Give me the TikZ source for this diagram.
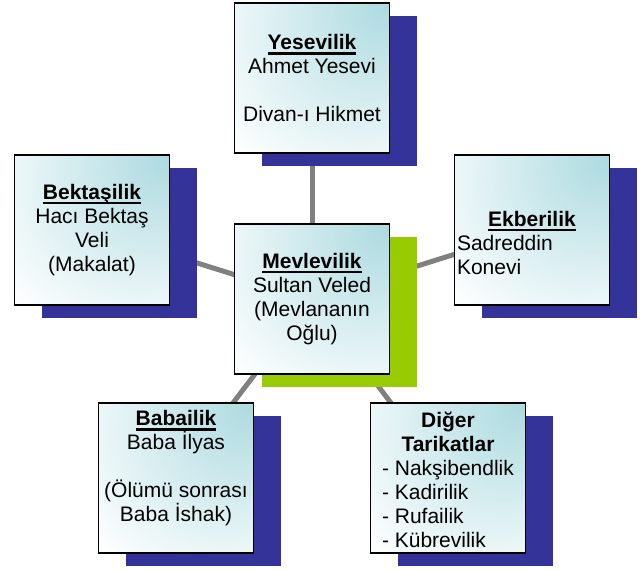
\documentclass[tikz,border=0pt]{standalone}
\usepackage{fontspec}
\setmainfont{Liberation Sans}
\usetikzlibrary{shadows,backgrounds}

\definecolor{boxteal}{RGB}{172,218,224}
\definecolor{shadowblue}{RGB}{51,51,153}
\definecolor{shadowgreen}{RGB}{153,204,0}
\definecolor{linkgray}{RGB}{128,128,128}
\pgfdeclareradialshading{boxshade}{\pgfpoint{25bp}{25bp}}{color(0bp)=(boxteal); color(52bp)=(white); color(100bp)=(white)}
\newcommand\ttl[1]{\setbox0=\hbox{\bfseries #1}\rlap{\rule[-5pt]{\wd0}{2.5pt}}\box0}

\begin{document}
\begin{tikzpicture}[x=1pt, y=-1pt,
    tarikat/.style={draw=black, line width=1.5pt, shading=boxshade, minimum width=155pt, minimum height=150pt, inner sep=2pt, align=center, font=\fontsize{21}{24}\selectfont},
    blueshadow/.style={drop shadow={shadow xshift=27pt, shadow yshift=-13pt, fill=shadowblue, opacity=1}},
    greenshadow/.style={drop shadow={shadow xshift=27pt, shadow yshift=-13pt, fill=shadowgreen, opacity=1}},
    link/.style={draw=linkgray, line width=5pt}]
    \useasboundingbox (0, 0) rectangle (640, 570);
    % center
    \node[tarikat, greenshadow] (mevlevi) at (312, 299) {\ttl{Mevlevilik}\\Sultan Veled\\(Mevlananın\\Oğlu)};
    % around
    \node[tarikat, blueshadow] (yesevi) at (312, 78) {\ttl{Yesevilik}\\Ahmet Yesevi\\\strut\\Divan-ı Hikmet};
    \node[tarikat, blueshadow] (bektasi) at (92, 230) {\ttl{Bektaşilik}\\Hacı Bektaş\\Veli\\(Makalat)};
    \node[tarikat, blueshadow] (ekberi) at (532, 230) {\strut\\\ttl{Ekberilik}\\\makebox[150pt][l]{Sadreddin}\\\makebox[150pt][l]{Konevi}};
    \node[tarikat, blueshadow] (babai) at (176, 478) {\ttl{Babailik}\\Baba İlyas\\\mbox{}\\(Ölümü sonrası\\Baba İshak)\\\mbox{}};
    \node[tarikat, blueshadow] (diger) at (448, 478) {\textbf{Diğer}\\\textbf{Tarikatlar}\\\raisebox{0pt}[\height][\dimexpr\depth-10pt]{\begin{tabular}[t]{@{}l@{}}- Nakşibendlik\\- Kadirilik\\- Rufailik\\- Kübrevilik\end{tabular}}};
    \begin{pgfonlayer}{background}
      \draw[link] (mevlevi.center) -- (yesevi.center);
      \draw[link] (mevlevi.center) -- (bektasi.center);
      \draw[link] (mevlevi.center) -- (ekberi.center);
      \draw[link] (mevlevi.center) -- (babai.center);
      \draw[link] (mevlevi.center) -- (diger.center);
    \end{pgfonlayer}
  \end{tikzpicture}
\end{document}
